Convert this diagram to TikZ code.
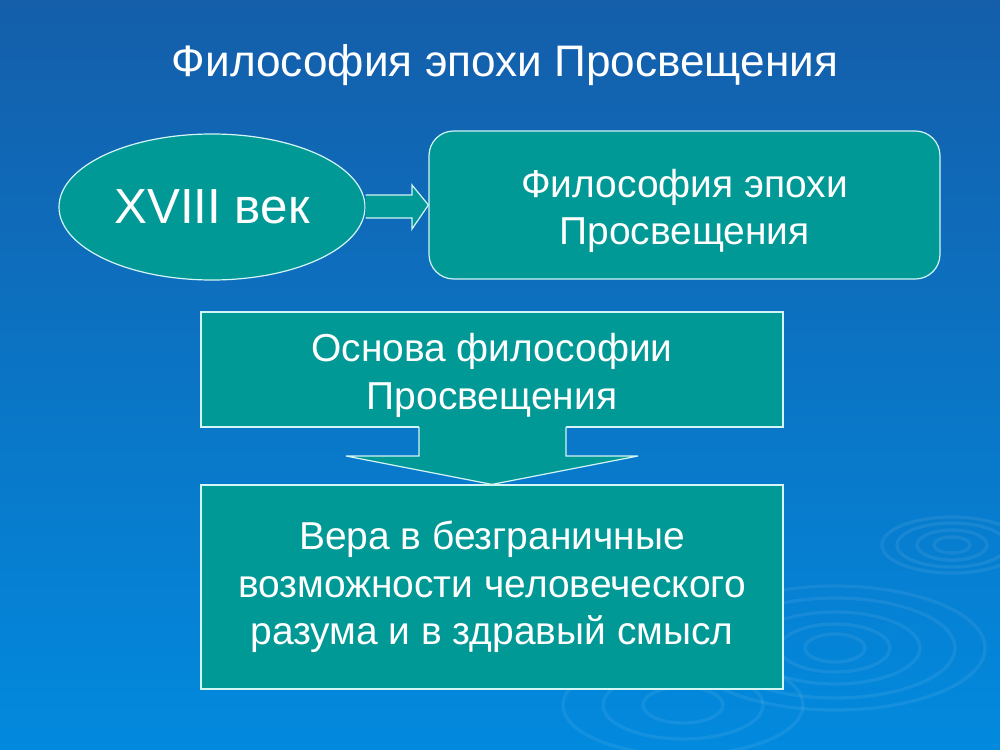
\documentclass[tikz,border=0pt]{standalone}
\usepackage{fontspec}
\setmainfont{Liberation Sans}
\usetikzlibrary{calc,shapes.geometric}
\definecolor{bgtop}{RGB}{20,94,170}
\definecolor{bgbot}{RGB}{2,138,222}
\definecolor{teal}{RGB}{0,153,150}
\definecolor{edge}{RGB}{210,245,245}
\begin{document}
\begin{tikzpicture}[x=0.75pt,y=-0.75pt,
  box/.style={draw=edge,line width=0.9pt,fill=teal,text=white,align=center,inner sep=0pt},
  boxtext/.style={font=\fontsize{29.2}{35.6}\selectfont},
  ripple/.style={draw=white,opacity=0.07,line width=2.5pt}]
\useasboundingbox (0,0) rectangle (1000,750);
\shade[top color=bgtop,bottom color=bgbot] (0,0) rectangle (1000,750);
% ripples
\foreach \r/\s in {30/14,55/24,85/36,120/50,150/62}
  \draw[ripple] (835,648) ellipse [x radius=\r, y radius=\s];
\foreach \r/\s in {18/8,35/15,55/22,70/28}
  \draw[ripple] (952,545) ellipse [x radius=\r, y radius=\s];
\foreach \r/\s in {40/18,80/34,120/50}
  \draw[ripple] (683,705) ellipse [x radius=\r, y radius=\s];
% title
\node[text=white,font=\fontsize{33.1}{38}\selectfont] (title) at (505,65) {Философия эпохи Просвещения};
% ellipse
\node[box,ellipse,minimum width=229.5pt,minimum height=109.5pt] (age) at (212,207) {};
\node[text=white,font=\fontsize{37}{42}\selectfont] (agetxt) at (age.center) {XVIII век};
% rounded box
\node[box,rounded corners=18.5pt,minimum width=383.25pt,minimum height=111pt] (phil) at (684.5,205) {};
\node[text=white,align=center,boxtext] (philtxt) at (684.5,211) {Философия эпохи\\Просвещения};
% right arrow
\draw[fill=teal,draw=edge,line width=0.9pt]
  (age.east |- 0,195) -- (412,195) -- (412,185) -- (phil.west) -- (412,229) -- (412,218) -- (age.east |- 0,218);
% base box
\node[box,minimum width=436.5pt,minimum height=86.25pt] (base) at (492,369.5) {};
\node[text=white,align=center,boxtext] (basetxt) at (492,375.5) {Основа философии\\Просвещения};
% belief box
\node[box,minimum width=436.5pt,minimum height=153pt,boxtext] (faith) at (492,587)
  {Вера в безграничные\\возможности человеческого\\разума и в здравый смысл};
% down arrow
\fill[teal] (419,426) -- (419,456) -- (346,456) -- (faith.north) -- (638,456) -- (566,456) -- (566,426) -- cycle;
\draw[draw=edge,line width=0.9pt] (419,427) -- (419,456) -- (346,456) -- (faith.north) -- (638,456) -- (566,456) -- (566,427);
\end{tikzpicture}
\end{document}
